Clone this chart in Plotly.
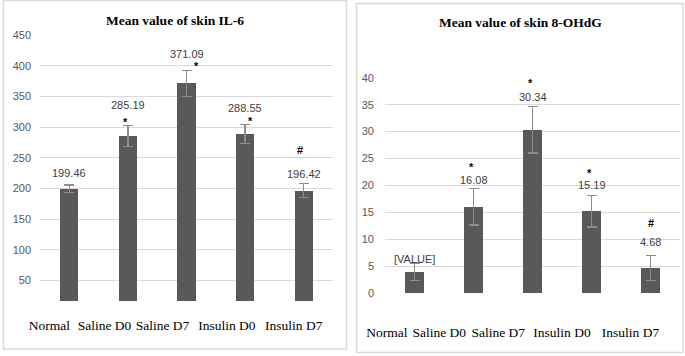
import plotly.graph_objects as go

categories = ["Normal", "Saline D0", "Saline D7", "Insulin D0", "Insulin D7"]

il6_values = [199.46, 285.19, 371.09, 288.55, 196.42]
il6_errors = [6, 17, 21, 16, 11]
il6_labels = ["199.46", "285.19", "371.09", "288.55", "196.42"]
il6_marks = ["", "*", "*", "*", "#"]
il6_ticks = [50, 100, 150, 200, 250, 300, 350, 400, 450]

ohdg_values = [4.0, 16.08, 30.34, 15.19, 4.68]
ohdg_errors = [1.6, 3.4, 4.3, 2.9, 2.3]
ohdg_labels = ["[VALUE]", "16.08", "30.34", "15.19", "4.68"]
ohdg_marks = ["", "*", "*", "*", "#"]
ohdg_ticks = [0, 5, 10, 15, 20, 25, 30, 35, 40]

W, H = 685, 356
BAR = "#595959"
GRID = "#d9d9d9"
TXT = "#595959"

fig = go.Figure()

idx = list(range(len(categories)))
fig.add_trace(go.Bar(
    x=idx, y=[v - 16 for v in il6_values], base=16, width=0.31,
    marker=dict(color=BAR, line=dict(width=0)),
    error_y=dict(type="data", array=il6_errors, color="#8c8c8c", thickness=1.3, width=5),
    xaxis="x", yaxis="y", showlegend=False, hoverinfo="skip"))
fig.add_trace(go.Bar(
    x=idx, y=ohdg_values, width=0.31,
    marker=dict(color=BAR, line=dict(width=0)),
    error_y=dict(type="data", array=ohdg_errors, color="#8c8c8c", thickness=1.3, width=5),
    xaxis="x2", yaxis="y2", showlegend=False, hoverinfo="skip"))

def px(x):
    return x / W

def py(y):
    return (H - y) / H

# tick label offsets (style)
l_off = [-0.34, -0.40, -0.41, -0.31, -0.17]
r_off = [-0.47, -0.58, -0.58, -0.50, -0.34]

xlab_font = dict(family="Liberation Serif", size=13.5, color="#000000")
ytick_font = dict(family="Liberation Sans", size=11, color=TXT)

fig.update_layout(
    width=W, height=H, margin=dict(l=0, r=0, t=0, b=0, autoexpand=False),
    paper_bgcolor="white", plot_bgcolor="white", bargap=0,
    xaxis=dict(domain=[px(40), px(333)], range=[-0.5, 4.5], anchor="y",
               tickmode="array", tickvals=[i + o for i, o in zip(idx, l_off)],
               ticktext=categories, tickfont=xlab_font, showgrid=False, tickangle=0,
               automargin=False,
               zeroline=False, showline=False, ticks="", ticklabelstandoff=4),
    yaxis=dict(domain=[py(311), py(35)], range=[0, 450], anchor="x",
               tickmode="array", tickvals=il6_ticks, tickfont=ytick_font,
               automargin=False,
               showgrid=True, gridcolor=GRID, gridwidth=1, zeroline=False,
               showline=False, ticks="", ticklabelstandoff=8),
    xaxis2=dict(domain=[px(385), px(680)], range=[-0.5, 4.5], anchor="y2",
                tickmode="array", tickvals=[i + o for i, o in zip(idx, r_off)],
                ticktext=categories, tickfont=xlab_font, showgrid=False, tickangle=0,
                automargin=False,
                zeroline=False, showline=False, ticks="", ticklabelstandoff=29),
    yaxis2=dict(domain=[py(293.3), py(77.7)], range=[0, 40], anchor="x2",
                tickmode="array", tickvals=ohdg_ticks, tickfont=ytick_font,
                automargin=False,
                showgrid=True, gridcolor=GRID, gridwidth=1, zeroline=False,
                showline=False, ticks="", ticklabelstandoff=10),
)

# panel borders
fig.add_shape(type="rect", xref="paper", yref="paper",
              x0=px(3.5), x1=px(346.5), y0=py(349), y1=py(0.5),
              line=dict(color=GRID, width=1.5), fillcolor="rgba(0,0,0,0)")
fig.add_shape(type="rect", xref="paper", yref="paper",
              x0=px(356.5), x1=px(683), y0=py(352.5), y1=py(3.5),
              line=dict(color=GRID, width=1.5), fillcolor="rgba(0,0,0,0)")

title_font = dict(family="Liberation Serif", size=13.5, color="#000000")
fig.add_annotation(text="<b>Mean value of skin IL-6</b>", xref="paper", yref="paper",
                   x=px(175), y=py(20), showarrow=False, font=title_font,
                   xanchor="center", yanchor="middle")
fig.add_annotation(text="<b>Mean value of skin 8-OHdG</b>", xref="paper", yref="paper",
                   x=px(520), y=py(22.7), showarrow=False, font=title_font,
                   xanchor="center", yanchor="middle")

lab_font = dict(family="Liberation Sans", size=11, color="#404040")
mark_font = dict(family="Liberation Sans", size=11, color="#000000")

# offsets (pixels) above error-bar top
l_lab_shift = [12, 21, 17, 16, 10]
l_mark_shift = [(0, 0), (-2, 4), (10, 5), (5, 3), (-4, 34)]
r_lab_shift = [4, 8, 10, 11, 14]
r_mark_shift = [(0, 0), (-2, 21), (-2, 24), (-2, 23), (0, 33)]

for i in idx:
    top = il6_values[i] + il6_errors[i]
    fig.add_annotation(text=il6_labels[i], x=i, y=top, xref="x", yref="y",
                       showarrow=False, font=lab_font, yanchor="middle",
                       yshift=l_lab_shift[i])
    if il6_marks[i]:
        dx, dy = l_mark_shift[i]
        fig.add_annotation(text="<b>" + il6_marks[i] + "</b>", x=i, y=top, xref="x", yref="y",
                           showarrow=False, font=mark_font, yanchor="middle",
                           xshift=dx, yshift=dy)
    top2 = ohdg_values[i] + ohdg_errors[i]
    fig.add_annotation(text=ohdg_labels[i], x=i, y=top2, xref="x2", yref="y2",
                       showarrow=False, font=lab_font, yanchor="middle",
                       yshift=r_lab_shift[i])
    if ohdg_marks[i]:
        dx, dy = r_mark_shift[i]
        fig.add_annotation(text="<b>" + ohdg_marks[i] + "</b>", x=i, y=top2, xref="x2", yref="y2",
                           showarrow=False, font=mark_font, yanchor="middle",
                           xshift=dx, yshift=dy)

fig.write_html("out.html", config={"displayModeBar": False, "staticPlot": True},
               post_script="document.body.style.margin='0';document.body.style.padding='0';document.body.style.overflow='hidden';")
